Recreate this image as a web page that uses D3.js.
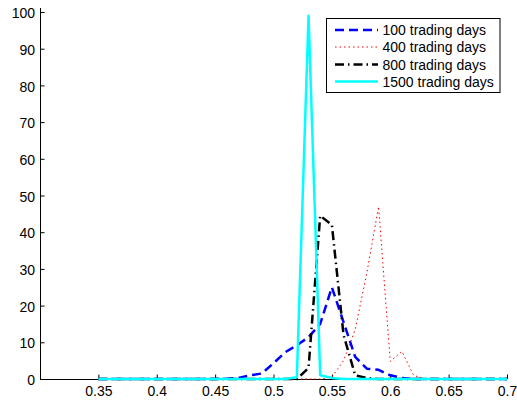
<!DOCTYPE html>
<html>
<head>
<meta charset="utf-8">
<script src="https://cdn.jsdelivr.net/npm/d3@7"></script>
<style>
  html, body { margin: 0; padding: 0; background: #fff; }
  svg { display: block; font-family: "Liberation Sans", Arial, Helvetica, sans-serif; }
</style>
</head>
<body>
<svg id="chart" width="517" height="403"></svg>
<script>
// Sample points (x values) shared by every series
const xValues = [0.35, 0.36, 0.37, 0.38, 0.39, 0.40, 0.41, 0.42, 0.43, 0.44,
                 0.45, 0.46, 0.47, 0.48, 0.49, 0.50, 0.51, 0.52, 0.53, 0.54,
                 0.55, 0.56, 0.57, 0.58, 0.59, 0.60, 0.61, 0.62, 0.63, 0.64,
                 0.65, 0.66, 0.67, 0.68, 0.69, 0.70];

// Frequency (%) for each horizon
const days100  = [0, 0, 0, 0, 0, 0, 0, 0, 0, 0,
                  0, 0.1, 0.3, 1, 1.5, 4.3, 7.3, 9.2, 11.4, 15,
                  25, 15.5, 6, 2.8, 2.5, 1, 0.3, 0, 0, 0,
                  0, 0, 0, 0, 0, 0];
const days400  = [0, 0, 0, 0, 0, 0, 0, 0, 0, 0,
                  0, 0, 0, 0, 0, 0, 0, 0, 0, 0,
                  0.5, 5, 13.5, 29, 47, 4.8, 7.5, 1, 0, 0,
                  0, 0, 0, 0, 0, 0];
const days800  = [0, 0, 0, 0, 0, 0, 0, 0, 0, 0,
                  0, 0, 0, 0, 0, 0, 0, 0, 3, 44.5,
                  42, 12, 1, 0.3, 0, 0, 0, 0, 0, 0,
                  0, 0, 0, 0, 0, 0];
const days1500 = [0, 0, 0, 0, 0, 0, 0, 0, 0, 0,
                  0, 0, 0, 0, 0, 0, 0, 0.5, 99, 1,
                  0.3, 0, 0, 0, 0, 0, 0, 0, 0, 0,
                  0, 0, 0, 0, 0, 0];

const seriesNames = ["100 trading days", "400 trading days", "800 trading days", "1500 trading days"];
const xTicks = [0.35, 0.4, 0.45, 0.5, 0.55, 0.6, 0.65, 0.7];
const yTicks = [0, 10, 20, 30, 40, 50, 60, 70, 80, 90, 100];

const series = [
  { name: seriesNames[0], values: days100,  color: "#0000ff", width: 2.5, dash: "9,5" },
  { name: seriesNames[1], values: days400,  color: "#ff0000", width: 1,   dash: "1.5,3" },
  { name: seriesNames[2], values: days800,  color: "#000000", width: 2.5, dash: "9,4,1.5,4" },
  { name: seriesNames[3], values: days1500, color: "#00ffff", width: 2.5, dash: null }
];

const svg = d3.select("#chart");
const plotLeft = 40, plotRight = 507, plotTop = 12, plotBottom = 379;
const fontFamily = "'Liberation Sans', Arial, Helvetica, sans-serif";

const x = d3.scaleLinear().domain([0.3, 0.7]).range([plotLeft, plotRight]);
const y = d3.scaleLinear().domain([0, 100]).range([plotBottom, plotTop]);

// Axes: ticks pointing inward, no box on top/right
const xAxis = d3.axisBottom(x).tickValues(xTicks).tickSize(-4.5).tickPadding(7.5)
  .tickFormat(d => String(+d.toFixed(2)));
const yAxis = d3.axisLeft(y).tickValues(yTicks).tickSize(-4.5).tickPadding(5);

const gx = svg.append("g").attr("transform", `translate(0,${plotBottom})`).call(xAxis);
const gy = svg.append("g").attr("transform", `translate(${plotLeft},0)`).call(yAxis);

[gx, gy].forEach(g => {
  g.select(".domain").attr("stroke", "#000").attr("stroke-width", 1);
  g.selectAll(".tick line").attr("stroke", "#000").attr("stroke-width", 1);
  g.selectAll(".tick text").attr("fill", "#000").attr("font-size", 14)
    .attr("font-family", fontFamily);
});
gy.selectAll(".tick text").attr("dy", "0.4em");
// Axis lines start exactly at the corner
gx.select(".domain").attr("d", `M${plotLeft},0.5H${plotRight}`);
gy.select(".domain").attr("d", `M0.5,${plotBottom}V${plotTop - 4}`);

// Series lines
const line = d3.line()
  .x((d, i) => x(xValues[i]))
  .y(d => y(d));

svg.append("g").selectAll("path")
  .data(series)
  .join("path")
  .attr("d", s => line(s.values))
  .attr("fill", "none")
  .attr("stroke", s => s.color)
  .attr("stroke-width", s => s.width)
  .attr("stroke-dasharray", s => s.dash)
  .attr("stroke-linejoin", "round");

// Legend
const lg = svg.append("g");
lg.append("rect")
  .attr("x", 326.5).attr("y", 18.5).attr("width", 173.5).attr("height", 74)
  .attr("fill", "#fff").attr("stroke", "#000").attr("stroke-width", 1);

const rows = [30, 47, 64.5, 81.5];
series.forEach((s, i) => {
  lg.append("line")
    .attr("x1", 335).attr("x2", 378)
    .attr("y1", rows[i]).attr("y2", rows[i])
    .attr("stroke", s.color)
    .attr("stroke-width", s.width)
    .attr("stroke-dasharray", s.dash);
  lg.append("text")
    .attr("x", 382.5).attr("y", rows[i]).attr("dy", "0.36em")
    .attr("font-size", 14).attr("font-family", fontFamily).attr("fill", "#000")
    .text(s.name);
});
</script>
</body>
</html>
